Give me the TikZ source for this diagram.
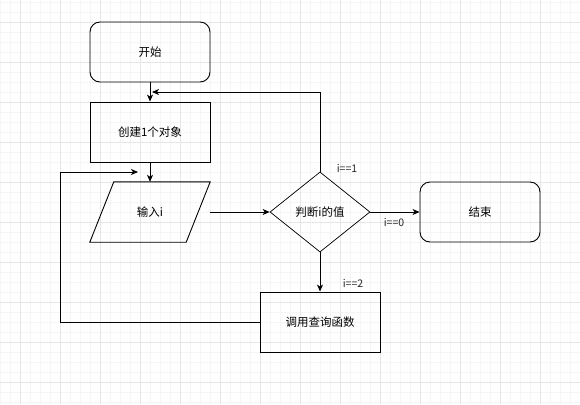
\documentclass[tikz,border=0pt]{standalone}
\usepackage{fontspec}
\setmainfont{Noto Sans CJK SC}
\usetikzlibrary{shapes.geometric,arrows.meta}
\definecolor{gridminor}{HTML}{F5F5F5}
\definecolor{gridmajor}{HTML}{E6E6E6}
\begin{document}
\begin{tikzpicture}[x=1pt,y=-1pt,
  every node/.style={font=\fontsize{11.5}{13}\selectfont, inner sep=1pt},
  procbox/.style={draw=black, line width=0.9pt, minimum width=120pt, minimum height=60pt},
  termbox/.style={procbox, rounded corners=10pt},
  decbox/.style={draw=black, line width=0.7pt, diamond, minimum width=100pt, minimum height=80pt, inner sep=0pt},
  iobox/.style={minimum width=120pt, minimum height=60pt},
  lbl/.style={font=\fontsize{10.5}{12}\selectfont, text=black!85},
  conn/.style={draw=black, line width=0.9pt, -{Stealth[length=7pt,width=6pt,inset=2pt]}}
]
\useasboundingbox (0,0) rectangle (580,404);
\fill[white] (0,0) rectangle (580,404);
% grid
\foreach \gx in {0,10,...,580} \draw[gridminor, line width=0.6pt] (\gx,0) -- (\gx,404);
\foreach \gy in {2,12,...,402} \draw[gridminor, line width=0.6pt] (0,\gy) -- (580,\gy);
\foreach \gx in {20,60,...,580} \draw[gridmajor, line width=0.8pt] (\gx,0) -- (\gx,404);
\foreach \gy in {22,62,...,402} \draw[gridmajor, line width=0.8pt] (0,\gy) -- (580,\gy);

% nodes
\node[termbox] (start) at (150,52) {开始};
\node[procbox] (create) at (150,132) {创建1个对象};
\node[iobox] (input) at (150,212) {输入i};
\draw[black, line width=0.9pt] ([xshift=24pt]input.north west) -- (input.north east)
  -- ([xshift=-24pt]input.south east) -- (input.south west) -- cycle;
\node[decbox] (dec) at (320,212) {判断i的值};
\node[termbox] (end) at (480,212) {结束};
\node[procbox] (call) at (320,322) {调用查询函数};

\coordinate (c1) at (152,92);
\coordinate (c2) at (138,172);
\coordinate (cl) at (60,172);

% connectors
\draw[conn] (start.south) -- (create.north);
\draw[conn] (create.south) -- (input.north);
\draw[conn] (input.east) -- (dec.west);
\draw[conn] (dec.north) |- (c1);
\draw[conn] (dec.east) -- (end.west);
\draw[conn] (dec.south) -- (call.north);
\draw[conn] (call.west) -| (cl) -- (c2);

% labels
\node[lbl] (l1) at (347,168) {i==1};
\node[lbl] (l0) at (394,222) {i==0};
\node[lbl] (l2) at (353,283) {i==2};
\end{tikzpicture}
\end{document}
